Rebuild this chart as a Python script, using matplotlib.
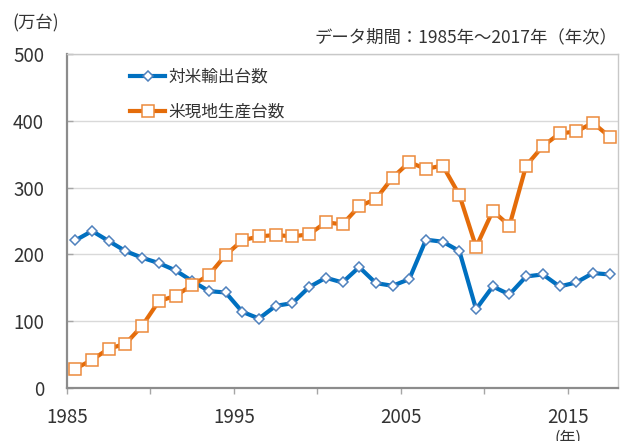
import numpy as np
import matplotlib
matplotlib.use("Agg")
import matplotlib.pyplot as plt

plt.rcParams['font.family'] = ['Noto Sans CJK JP', 'DejaVu Sans']

# data (万台)
years = list(range(1985, 2018))
us_export = [221, 235, 220, 205, 195, 187, 176, 160, 145, 143,
             114, 104, 123, 127, 151, 165, 158, 181, 157, 153,
             163, 222, 219, 205, 118, 152, 140, 167, 170, 152,
             158, 172, 170]
us_production = [29, 42, 59, 66, 93, 130, 138, 154, 169, 199,
                 221, 227, 229, 227, 230, 248, 245, 272, 283, 315,
                 338, 328, 333, 289, 211, 265, 243, 333, 362, 381,
                 384, 397, 376]
series_labels = ['対米輸出台数', '米現地生産台数']
y_ticks = [0, 100, 200, 300, 400, 500]
unit_label = '(万台)'
period_note = 'データ期間：1985年～2017年（年次）'

TEXT = '#333333'
W, H = 623, 441

fig = plt.figure(figsize=(W / 100, H / 100), dpi=100)
ax = fig.add_axes([67 / W, 1 - 388 / H, 551 / W, 334 / H])

x = np.arange(len(years))
ax.plot(x, us_export, color='#0070C0', lw=3, marker='D', ms=5.5,
        mfc='white', mec='#4F81BD', mew=1.1, label=series_labels[0], zorder=3)
ax.plot(x, us_production, color='#E46C0A', lw=3, marker='s', ms=9,
        mfc='white', mec='#EC8A3C', mew=1.1, label=series_labels[1], zorder=4)

ax.set_xlim(-0.5, len(years) - 0.5)
ax.set_ylim(0, 500)
ax.set_yticks(y_ticks)
ax.set_yticklabels([str(v) for v in y_ticks])

# category boundaries every 5 years, labels every 10
bounds = np.arange(-0.5, len(years) - 1, 5)
ax.set_xticks(bounds)
ax.set_xticklabels([str(years[0] + 5 * k) if k % 2 == 0 else '' for k in range(len(bounds))])

ax.yaxis.grid(True, color='#d9d9d9', lw=1)
ax.set_axisbelow(True)

ax.tick_params(axis='x', direction='out', length=4.5, width=1, color='#a6a6a6',
               labelsize=13.5, labelcolor=TEXT, pad=9)
ax.tick_params(axis='y', direction='in', length=4, width=1, color='#a6a6a6',
               labelsize=13.5, labelcolor=TEXT, pad=16.5)

for s in ('left', 'bottom'):
    ax.spines[s].set_color('#8c8c8c')
    ax.spines[s].set_linewidth(1.6)
for s in ('top', 'right'):
    ax.spines[s].set_color('#c8c8c8')
    ax.spines[s].set_linewidth(1)

leg = ax.legend(loc='upper left', bbox_to_anchor=(0.103, 0.975), frameon=False,
                fontsize=12, handlelength=2.1, handletextpad=0.2, labelspacing=1.05,
                borderaxespad=0)
for t in leg.get_texts():
    t.set_color(TEXT)

fig.text(12 / W, 1 - 23 / H, unit_label, fontsize=12.5, color=TEXT, ha='left', va='center')
fig.text(617 / W, 1 - 37 / H, period_note, fontsize=12.5, color=TEXT, ha='right', va='center')
fig.text(568 / W, 1 - 438 / H, '(年)', fontsize=11.5, color=TEXT, ha='center', va='center')

fig.savefig('out.png', dpi=100)
